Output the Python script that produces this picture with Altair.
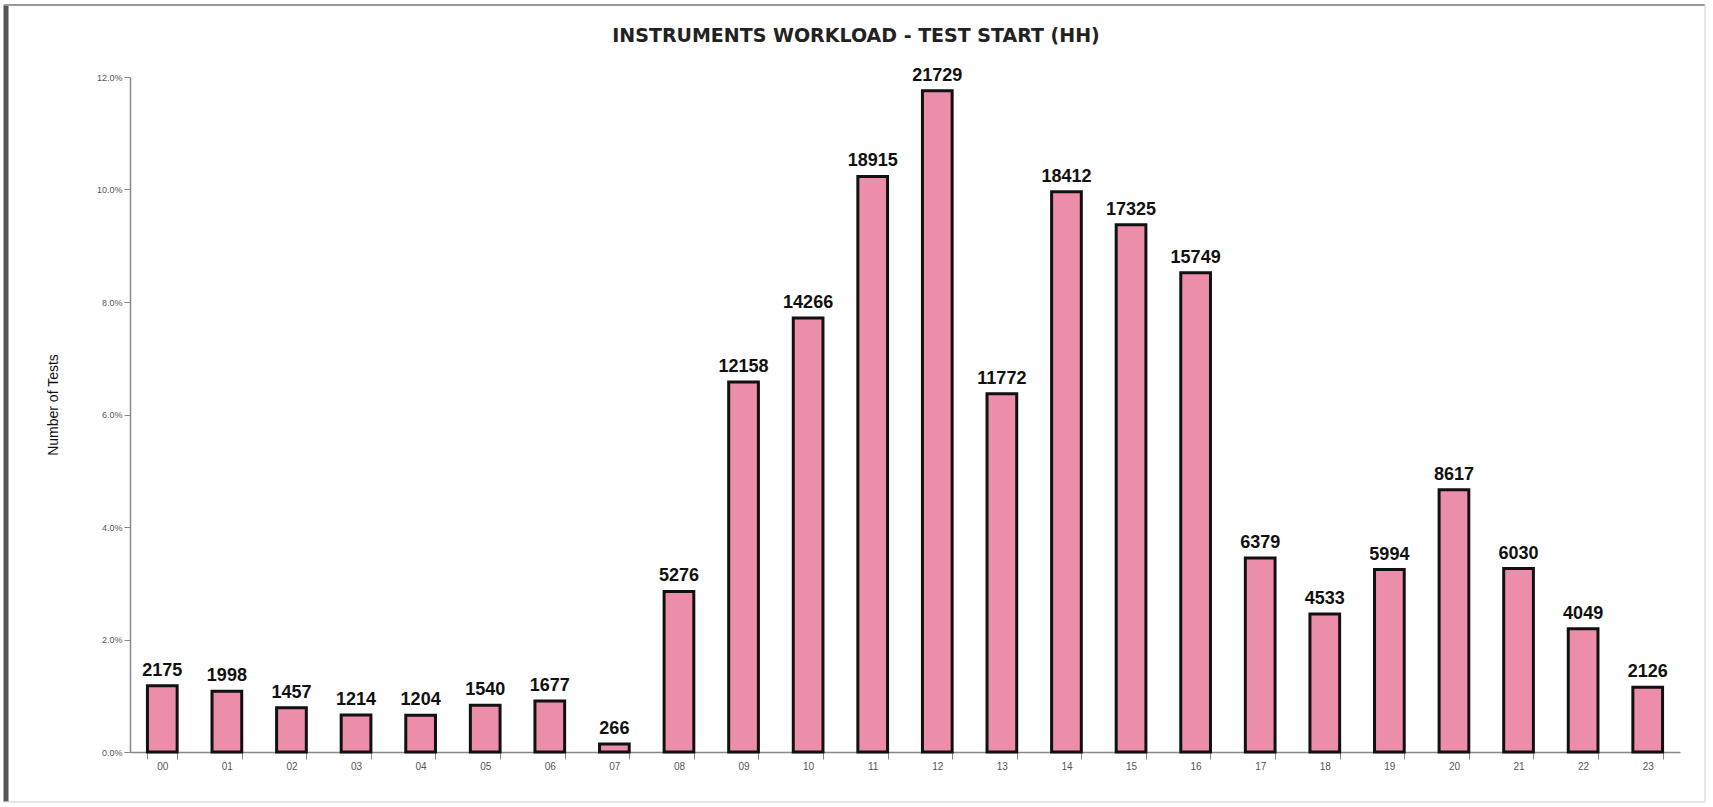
import altair as alt
import pandas as pd

hours = ["00", "01", "02", "03", "04", "05", "06", "07", "08", "09", "10", "11",
         "12", "13", "14", "15", "16", "17", "18", "19", "20", "21", "22", "23"]
tests = [2175, 1998, 1457, 1214, 1204, 1540, 1677, 266, 5276, 12158, 14266, 18915,
         21729, 11772, 18412, 17325, 15749, 6379, 4533, 5994, 8617, 6030, 4049, 2126]
title_text = "INSTRUMENTS WORKLOAD - TEST START (HH)"

df = pd.DataFrame({"hour": hours, "tests": tests})
title_df = pd.DataFrame({"t": [title_text]})

W, H = 1550, 675
FONT = "Liberation Sans"

base = alt.Chart(df).transform_joinaggregate(
    total="sum(tests)"
).transform_calculate(
    pct="datum.tests / datum.total"
)

x_enc = alt.X("hour:N", sort=hours,
              scale=alt.Scale(paddingInner=0.54, paddingOuter=0.27),
              axis=alt.Axis(title=None, labelAngle=0, labelFontSize=10, labelColor="#555",
                            labelFont=FONT, labelPadding=2, tickBand="extent", tickSize=7,
                            domainColor="#888", tickColor="#888", domainWidth=1.5, grid=False))
y_enc = alt.Y("pct:Q", scale=alt.Scale(domain=[0, 0.12], nice=False),
              axis=alt.Axis(title="Number of Tests", format=".1%",
                            values=[0, 0.02, 0.04, 0.06, 0.08, 0.10, 0.12],
                            labelFontSize=9, labelColor="#555", labelFont=FONT,
                            tickSize=6, tickColor="#888", domainColor="#888", domainWidth=1.5,
                            grid=False, titleFont=FONT, titleFontSize=14,
                            titleFontWeight="normal", titleColor="#111",
                            titleX=-77, titleY=H / 2 - 10, titleAngle=270,
                            titleAlign="center", titleBaseline="middle"))

bars = base.mark_bar(color="#EC8DAA", stroke="#111", strokeWidth=3).encode(x=x_enc, y=y_enc)

labels = base.mark_text(baseline="bottom", dy=-6, fontSize=18, fontWeight="bold",
                        font=FONT, color="#111").encode(
    x=alt.X("hour:N", sort=hours), y="pct:Q", text="tests:Q"
)

title = alt.Chart(title_df).mark_text(font="DejaVu Sans", fontSize=19, fontWeight="bold",
                                      color="#222", align="center", baseline="middle").encode(
    x=alt.value(W / 2 - 49), y=alt.value(-41), text="t:N")

frame_left = alt.Chart(title_df).mark_rule(color="#555", strokeWidth=5).encode(
    x=alt.value(-124), y=alt.value(-72), y2=alt.value(H + 50))
frame_top = alt.Chart(title_df).mark_rule(color="#999", strokeWidth=2).encode(
    x=alt.value(-126), x2=alt.value(W + 25), y=alt.value(-72))
frame_right = alt.Chart(title_df).mark_rule(color="#ddd", strokeWidth=1.5).encode(
    x=alt.value(W + 25), y=alt.value(-72), y2=alt.value(H + 50))
frame_bottom = alt.Chart(title_df).mark_rule(color="#ddd", strokeWidth=1.5).encode(
    x=alt.value(-126), x2=alt.value(W + 25), y=alt.value(H + 50))

chart = alt.layer(frame_left, frame_top, frame_right, frame_bottom, title, bars, labels).properties(
    width=W, height=H,
    autosize=alt.AutoSizeParams(type="none"),
    padding={"left": 130, "top": 77, "right": 33, "bottom": 55},
).configure(background="white", view=alt.ViewConfig(stroke=None))

chart.save("out.html", embed_options={"renderer": "svg", "actions": False})
